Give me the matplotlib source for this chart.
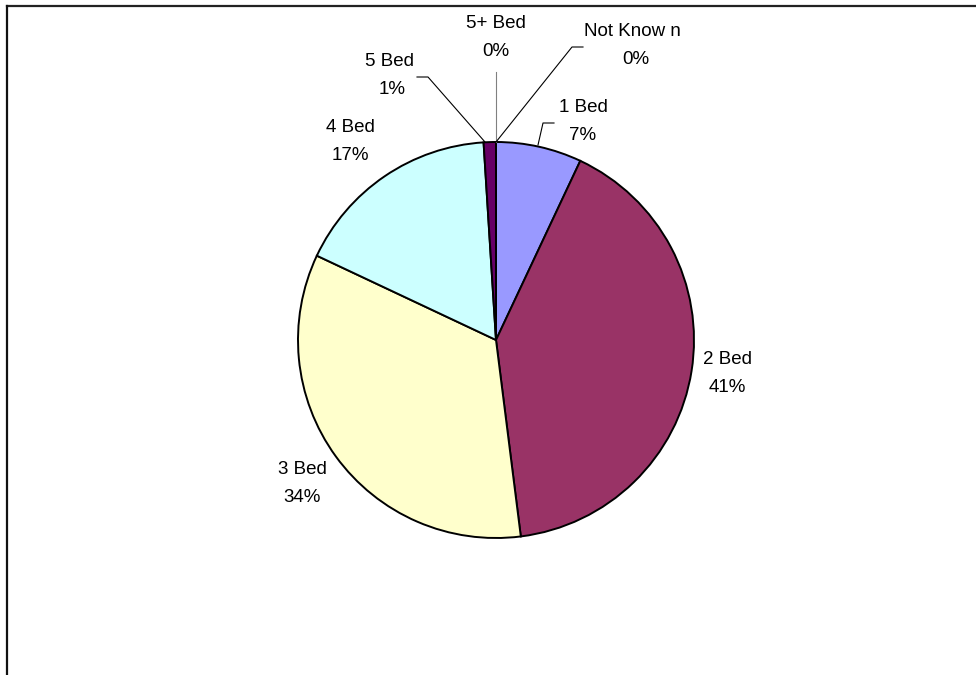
import matplotlib.pyplot as plt

plt.rcParams['font.family'] = ['Liberation Sans', 'DejaVu Sans']

beds = ['1 Bed', '2 Bed', '3 Bed', '4 Bed', '5 Bed', '5+ Bed', 'Not Know n']
share = [7, 41, 34, 17, 1, 0, 0]
colours = ['#9999FF', '#993366', '#FFFFCC', '#CCFFFF', '#660066', '#FF8080', '#0066CC']

# pixel layout of the chart area
W, H = 976, 675
cx, cy, R = 496, 340, 198

def px(x, y):
    return (x - cx) / R, (cy - y) / R

fig = plt.figure(figsize=(W / 100, H / 100), dpi=100)
ax = fig.add_axes([0, 0, 1, 1])

ax.pie(share, colors=colours, startangle=90, counterclock=False, radius=1,
       wedgeprops=dict(edgecolor='black', linewidth=1.4))

# pie() resets the limits, so set them afterwards
ax.set_xlim(-cx / R, (W - cx) / R)
ax.set_ylim(-(H - cy) / R, cy / R)
ax.set_aspect('equal')
ax.axis('off')

# label centres (name line, then percent line 28px below)
label_pos = [(583, 107), (727, 360), (302, 470), (350, 128), (389, 62), (496, 24), (632, 31)]
pct_dx = [0, 0, 0, 0, 3, 0, 4]
for name, v, (x, y), dx in zip(beds, share, label_pos, pct_dx):
    ax.text(*px(x, y), name, ha='center', va='center', fontsize=13.5)
    ax.text(*px(x + dx, y + 28), '%d%%' % v, ha='center', va='center', fontsize=13.5)

# leader lines for the small slices
leaders = [
    ([538, 543, 554], [145, 123, 123], 'black'),
    ([485, 428, 417], [142, 77, 77], 'black'),
    ([496, 496], [142, 72], '#808080'),
    ([496, 572, 583], [142, 47, 47], 'black'),
]
for xs, ys, c in leaders:
    pts = [px(x, y) for x, y in zip(xs, ys)]
    ax.plot([p[0] for p in pts], [p[1] for p in pts], color=c, lw=0.8)

# chart frame (top and left edges)
fig.add_artist(plt.Line2D([7 / W, 1], [1 - 5.5 / H, 1 - 5.5 / H], color='#222222', lw=1.6))
fig.add_artist(plt.Line2D([7 / W, 7 / W], [0, 1 - 5.5 / H], color='#111111', lw=1.6))

fig.savefig('out.png', dpi=100)
